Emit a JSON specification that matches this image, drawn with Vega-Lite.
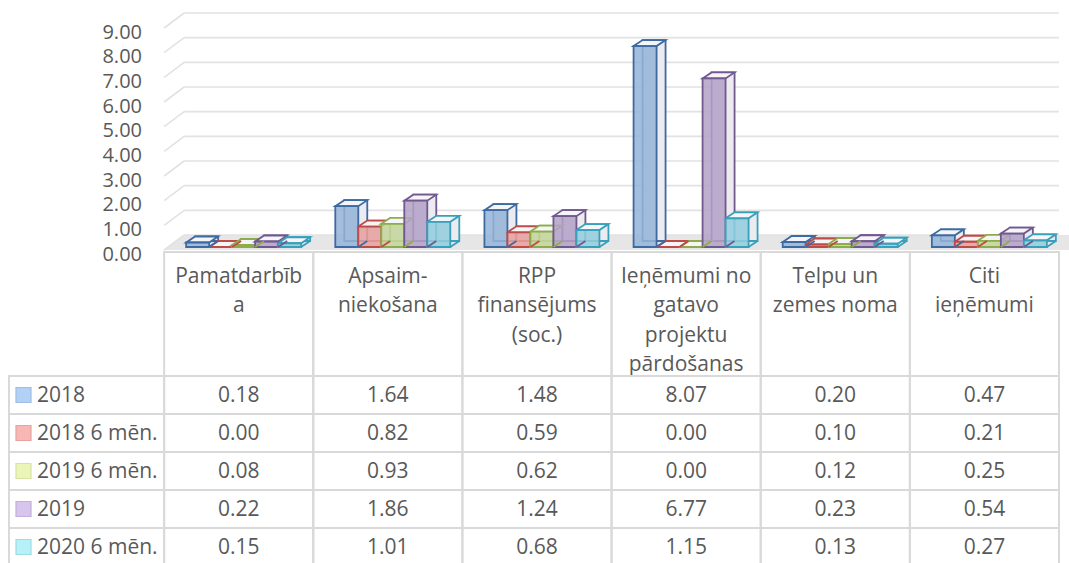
{
  "$schema": "https://vega.github.io/schema/vega-lite/v6.json",
  "width": 1044,
  "height": 563,
  "autosize": {"type": "none"},
  "padding": {"left": 15, "right": 10, "top": 0, "bottom": 0},
  "background": "white",
  "config": {
    "view": {"stroke": null},
    "font": "Open Sans",
    "text": {"font": "Open Sans", "fontSize": 21, "color": "#595959"}
  },
  "datasets": {
    "revenue": [
      {"kategorija": "Pamatdarbīb\na", "periods": "2018", "milj": 0.18},
      {"kategorija": "Pamatdarbīb\na", "periods": "2018 6 mēn.", "milj": 0.00},
      {"kategorija": "Pamatdarbīb\na", "periods": "2019 6 mēn.", "milj": 0.08},
      {"kategorija": "Pamatdarbīb\na", "periods": "2019", "milj": 0.22},
      {"kategorija": "Pamatdarbīb\na", "periods": "2020 6 mēn.", "milj": 0.15},
      {"kategorija": "Apsaim-\nniekošana", "periods": "2018", "milj": 1.64},
      {"kategorija": "Apsaim-\nniekošana", "periods": "2018 6 mēn.", "milj": 0.82},
      {"kategorija": "Apsaim-\nniekošana", "periods": "2019 6 mēn.", "milj": 0.93},
      {"kategorija": "Apsaim-\nniekošana", "periods": "2019", "milj": 1.86},
      {"kategorija": "Apsaim-\nniekošana", "periods": "2020 6 mēn.", "milj": 1.01},
      {"kategorija": "RPP\nfinansējums\n(soc.)", "periods": "2018", "milj": 1.48},
      {"kategorija": "RPP\nfinansējums\n(soc.)", "periods": "2018 6 mēn.", "milj": 0.59},
      {"kategorija": "RPP\nfinansējums\n(soc.)", "periods": "2019 6 mēn.", "milj": 0.62},
      {"kategorija": "RPP\nfinansējums\n(soc.)", "periods": "2019", "milj": 1.24},
      {"kategorija": "RPP\nfinansējums\n(soc.)", "periods": "2020 6 mēn.", "milj": 0.68},
      {"kategorija": "Ieņēmumi no\ngatavo\nprojektu\npārdošanas", "periods": "2018", "milj": 8.07},
      {"kategorija": "Ieņēmumi no\ngatavo\nprojektu\npārdošanas", "periods": "2018 6 mēn.", "milj": 0.00},
      {"kategorija": "Ieņēmumi no\ngatavo\nprojektu\npārdošanas", "periods": "2019 6 mēn.", "milj": 0.00},
      {"kategorija": "Ieņēmumi no\ngatavo\nprojektu\npārdošanas", "periods": "2019", "milj": 6.77},
      {"kategorija": "Ieņēmumi no\ngatavo\nprojektu\npārdošanas", "periods": "2020 6 mēn.", "milj": 1.15},
      {"kategorija": "Telpu un\nzemes noma", "periods": "2018", "milj": 0.20},
      {"kategorija": "Telpu un\nzemes noma", "periods": "2018 6 mēn.", "milj": 0.10},
      {"kategorija": "Telpu un\nzemes noma", "periods": "2019 6 mēn.", "milj": 0.12},
      {"kategorija": "Telpu un\nzemes noma", "periods": "2019", "milj": 0.23},
      {"kategorija": "Telpu un\nzemes noma", "periods": "2020 6 mēn.", "milj": 0.13},
      {"kategorija": "Citi\nieņēmumi", "periods": "2018", "milj": 0.47},
      {"kategorija": "Citi\nieņēmumi", "periods": "2018 6 mēn.", "milj": 0.21},
      {"kategorija": "Citi\nieņēmumi", "periods": "2019 6 mēn.", "milj": 0.25},
      {"kategorija": "Citi\nieņēmumi", "periods": "2019", "milj": 0.54},
      {"kategorija": "Citi\nieņēmumi", "periods": "2020 6 mēn.", "milj": 0.27}
    ],
    "ticks": [
      {"v": 0}, {"v": 1}, {"v": 2}, {"v": 3}, {"v": 4},
      {"v": 5}, {"v": 6}, {"v": 7}, {"v": 8}, {"v": 9}
    ],
    "periodList": [
      {"periods": "2018"},
      {"periods": "2018 6 mēn."},
      {"periods": "2019 6 mēn."},
      {"periods": "2019"},
      {"periods": "2020 6 mēn."}
    ],
    "categoryList": [
      {"kategorija": "Pamatdarbīb\na"},
      {"kategorija": "Apsaim-\nniekošana"},
      {"kategorija": "RPP\nfinansējums\n(soc.)"},
      {"kategorija": "Ieņēmumi no\ngatavo\nprojektu\npārdošanas"},
      {"kategorija": "Telpu un\nzemes noma"},
      {"kategorija": "Citi\nieņēmumi"}
    ]
  },
  "resolve": {
    "scale": {
      "y": "independent",
      "xOffset": "independent",
      "fill": "independent",
      "stroke": "independent"
    }
  },
  "layer": [
    {
      "description": "3D floor under the columns",
      "data": {"values": [{"grida": 0}]},
      "mark": {"type": "point", "shape": "M0,0 L20,-15 L1200,-15 L1200,0 Z", "size": 4, "filled": true, "fill": "#e6e6e6", "strokeWidth": 0, "opacity": 1},
      "encoding": {
        "x": {"datum": "Pamatdarbīb\na", "type": "nominal", "bandPosition": 0, "axis": null,
              "scale": {"type": "band", "domain": [" ", "Pamatdarbīb\na", "Apsaim-\nniekošana", "RPP\nfinansējums\n(soc.)", "Ieņēmumi no\ngatavo\nprojektu\npārdošanas", "Telpu un\nzemes noma", "Citi\nieņēmumi"], "paddingInner": 0, "paddingOuter": 0}},
        "y": {"field": "grida", "type": "quantitative", "axis": null,
              "scale": {"domain": [0, 9], "range": [250, 28], "zero": false, "nice": false}}
      }
    },
    {
      "description": "gridlines on the side wall",
      "data": {"name": "ticks"},
      "mark": {"type": "point", "shape": "M0,0 L20,-15", "size": 4, "filled": false, "stroke": "#e2e2e2", "strokeWidth": 1.6, "opacity": 1},
      "encoding": {
        "x": {"datum": "Pamatdarbīb\na", "type": "nominal", "bandPosition": 0, "axis": null},
        "y": {"field": "v", "type": "quantitative", "axis": null,
              "scale": {"domain": [0, 9], "range": [250, 28], "zero": false, "nice": false}}
      }
    },
    {
      "description": "gridlines on the back wall",
      "data": {"name": "ticks"},
      "mark": {"type": "rule", "stroke": "#e2e2e2", "strokeWidth": 1.6, "xOffset": 20, "yOffset": -15},
      "encoding": {
        "x": {"datum": "Pamatdarbīb\na", "type": "nominal", "bandPosition": 0, "axis": null},
        "x2": {"value": "width"},
        "y": {"field": "v", "type": "quantitative", "axis": null,
              "scale": {"domain": [0, 9], "range": [250, 28], "zero": false, "nice": false}}
      }
    },
    {
      "description": "value axis labels",
      "data": {"name": "ticks"},
      "mark": {"type": "text", "align": "right", "baseline": "middle", "dx": 127, "dy": 4.5, "fontSize": 20},
      "encoding": {
        "x": {"datum": " ", "type": "nominal", "bandPosition": 0, "axis": null},
        "y": {"field": "v", "type": "quantitative", "axis": null,
              "scale": {"domain": [0, 9], "range": [250, 28], "zero": false, "nice": false}},
        "text": {"field": "v", "type": "quantitative", "format": ".2f"}
      }
    },
    {
      "description": "back faces of the columns",
      "data": {"name": "revenue"},
      "mark": {"type": "bar", "fill": "#ebebf0", "strokeWidth": 1.8},
      "encoding": {
        "x": {"field": "kategorija", "type": "nominal", "axis": null},
        "xOffset": {"field": "periods", "type": "nominal",
                    "scale": {"type": "band", "domain": ["2018", "2018 6 mēn.", "2019 6 mēn.", "2019", "2020 6 mēn."], "range": [31, 146], "paddingInner": 0, "paddingOuter": 0}},
        "y": {"field": "milj", "type": "quantitative", "stack": null, "axis": null,
              "scale": {"domain": [0, 9], "range": [241, 16.9], "zero": false, "nice": false}},
        "stroke": {"field": "periods", "type": "nominal", "legend": null,
                   "scale": {"domain": ["2018", "2018 6 mēn.", "2019 6 mēn.", "2019", "2020 6 mēn."], "range": ["#3e6aa3", "#be4b48", "#8cad4a", "#71588f", "#37a0bb"]}}
      }
    },
    {
      "description": "top faces of the columns",
      "data": {"name": "revenue"},
      "mark": {"type": "point", "shape": "M-11.5,0 L-2.5,-6 L20.5,-6 L11.5,0 Z", "size": 4, "filled": true, "fill": "#f5f5f7", "strokeWidth": 1.8, "opacity": 1},
      "encoding": {
        "x": {"field": "kategorija", "type": "nominal", "axis": null},
        "xOffset": {"field": "periods", "type": "nominal",
                    "scale": {"type": "band", "domain": ["2018", "2018 6 mēn.", "2019 6 mēn.", "2019", "2020 6 mēn."], "range": [22, 137], "paddingInner": 0, "paddingOuter": 0}},
        "y": {"field": "milj", "type": "quantitative", "axis": null,
              "scale": {"domain": [0, 9], "range": [247, 22.9], "zero": false, "nice": false}},
        "stroke": {"field": "periods", "type": "nominal", "legend": null,
                   "scale": {"domain": ["2018", "2018 6 mēn.", "2019 6 mēn.", "2019", "2020 6 mēn."], "range": ["#3e6aa3", "#be4b48", "#8cad4a", "#71588f", "#37a0bb"]}}
      }
    },
    {
      "description": "front faces of the columns",
      "data": {"name": "revenue"},
      "mark": {"type": "bar", "fillOpacity": 0.86, "strokeWidth": 1.8},
      "encoding": {
        "x": {"field": "kategorija", "type": "nominal", "axis": null},
        "xOffset": {"field": "periods", "type": "nominal",
                    "scale": {"type": "band", "domain": ["2018", "2018 6 mēn.", "2019 6 mēn.", "2019", "2020 6 mēn."], "range": [22, 137], "paddingInner": 0, "paddingOuter": 0}},
        "y": {"field": "milj", "type": "quantitative", "stack": null, "axis": null,
              "scale": {"domain": [0, 9], "range": [247, 22.9], "zero": false, "nice": false}},
        "fill": {"field": "periods", "type": "nominal", "legend": null,
                 "scale": {"domain": ["2018", "2018 6 mēn.", "2019 6 mēn.", "2019", "2020 6 mēn."], "range": ["#95b3d7", "#e6a09e", "#c3d69b", "#b3a2c7", "#93cddd"]}},
        "stroke": {"field": "periods", "type": "nominal", "legend": null,
                   "scale": {"domain": ["2018", "2018 6 mēn.", "2019 6 mēn.", "2019", "2020 6 mēn."], "range": ["#3e6aa3", "#be4b48", "#8cad4a", "#71588f", "#37a0bb"]}}
      }
    },
    {
      "description": "lower right depth edge of each column",
      "data": {"name": "revenue"},
      "mark": {"type": "point", "shape": "M11.5,0 L20.5,-6", "size": 4, "filled": false, "strokeWidth": 1.8, "opacity": 1},
      "encoding": {
        "x": {"field": "kategorija", "type": "nominal", "axis": null},
        "xOffset": {"field": "periods", "type": "nominal",
                    "scale": {"type": "band", "domain": ["2018", "2018 6 mēn.", "2019 6 mēn.", "2019", "2020 6 mēn."], "range": [22, 137], "paddingInner": 0, "paddingOuter": 0}},
        "y": {"datum": 0, "type": "quantitative", "axis": null,
              "scale": {"domain": [0, 9], "range": [247, 22.9], "zero": false, "nice": false}},
        "stroke": {"field": "periods", "type": "nominal", "legend": null,
                   "scale": {"domain": ["2018", "2018 6 mēn.", "2019 6 mēn.", "2019", "2020 6 mēn."], "range": ["#3e6aa3", "#be4b48", "#8cad4a", "#71588f", "#37a0bb"]}}
      }
    },
    {
      "description": "header cells of the data table",
      "data": {"name": "categoryList"},
      "mark": {"type": "rect", "fill": "white", "fillOpacity": 0, "stroke": "#d9d9d9", "strokeWidth": 2},
      "encoding": {
        "x": {"field": "kategorija", "type": "nominal", "axis": null},
        "y": {"datum": " ", "type": "nominal", "axis": null,
              "scale": {"type": "band", "domain": [" "], "range": [252, 376], "paddingInner": 0, "paddingOuter": 0}}
      }
    },
    {
      "description": "category names",
      "data": {"name": "categoryList"},
      "mark": {"type": "text", "align": "center", "baseline": "top", "dy": 14, "lineBreak": "\n", "lineHeight": 29.3},
      "encoding": {
        "x": {"field": "kategorija", "type": "nominal", "axis": null},
        "y": {"datum": " ", "type": "nominal", "bandPosition": 0, "axis": null,
              "scale": {"type": "band", "domain": [" "], "range": [252, 376], "paddingInner": 0, "paddingOuter": 0}},
        "text": {"field": "kategorija", "type": "nominal"}
      }
    },
    {
      "description": "value cells of the data table",
      "data": {"name": "revenue"},
      "mark": {"type": "rect", "fill": "white", "fillOpacity": 0, "stroke": "#d9d9d9", "strokeWidth": 2},
      "encoding": {
        "x": {"field": "kategorija", "type": "nominal", "axis": null},
        "y": {"field": "periods", "type": "nominal", "axis": null,
              "scale": {"type": "band", "domain": ["2018", "2018 6 mēn.", "2019 6 mēn.", "2019", "2020 6 mēn."], "range": [376, 566], "paddingInner": 0, "paddingOuter": 0}}
      }
    },
    {
      "description": "series name cells of the data table",
      "data": {"name": "periodList"},
      "mark": {"type": "rect", "fill": "white", "fillOpacity": 0, "stroke": "#d9d9d9", "strokeWidth": 2, "xOffset": -3, "width": {"expr": "bandwidth('x') + 6"}},
      "encoding": {
        "x": {"datum": " ", "type": "nominal", "axis": null},
        "y": {"field": "periods", "type": "nominal", "axis": null,
              "scale": {"type": "band", "domain": ["2018", "2018 6 mēn.", "2019 6 mēn.", "2019", "2020 6 mēn."], "range": [376, 566], "paddingInner": 0, "paddingOuter": 0}}
      }
    },
    {
      "description": "legend keys inside the data table",
      "data": {"name": "periodList"},
      "mark": {"type": "point", "shape": "square", "size": 225, "filled": true, "strokeWidth": 1.2, "opacity": 1, "xOffset": 8.5},
      "encoding": {
        "x": {"datum": " ", "type": "nominal", "bandPosition": 0, "axis": null},
        "y": {"field": "periods", "type": "nominal", "axis": null,
              "scale": {"type": "band", "domain": ["2018", "2018 6 mēn.", "2019 6 mēn.", "2019", "2020 6 mēn."], "range": [376, 566], "paddingInner": 0, "paddingOuter": 0}},
        "fill": {"field": "periods", "type": "nominal", "legend": null,
                 "scale": {"domain": ["2018", "2018 6 mēn.", "2019 6 mēn.", "2019", "2020 6 mēn."], "range": ["#b3d1f6", "#f8b6b5", "#ebf5b8", "#d7c5ee", "#b5f1f7"]}},
        "stroke": {"field": "periods", "type": "nominal", "legend": null,
                   "scale": {"domain": ["2018", "2018 6 mēn.", "2019 6 mēn.", "2019", "2020 6 mēn."], "range": ["#9dbde4", "#e6a3a2", "#d6e3a3", "#c2b0dc", "#9fdbe3"]}}
      }
    },
    {
      "description": "series names",
      "data": {"name": "periodList"},
      "mark": {"type": "text", "align": "left", "baseline": "middle", "dx": 22, "dy": 1},
      "encoding": {
        "x": {"datum": " ", "type": "nominal", "bandPosition": 0, "axis": null},
        "y": {"field": "periods", "type": "nominal", "axis": null,
              "scale": {"type": "band", "domain": ["2018", "2018 6 mēn.", "2019 6 mēn.", "2019", "2020 6 mēn."], "range": [376, 566], "paddingInner": 0, "paddingOuter": 0}},
        "text": {"field": "periods", "type": "nominal"}
      }
    },
    {
      "description": "values in the data table",
      "data": {"name": "revenue"},
      "mark": {"type": "text", "align": "center", "baseline": "middle", "dy": 1},
      "encoding": {
        "x": {"field": "kategorija", "type": "nominal", "axis": null},
        "y": {"field": "periods", "type": "nominal", "axis": null,
              "scale": {"type": "band", "domain": ["2018", "2018 6 mēn.", "2019 6 mēn.", "2019", "2020 6 mēn."], "range": [376, 566], "paddingInner": 0, "paddingOuter": 0}},
        "text": {"field": "milj", "type": "quantitative", "format": ".2f"}
      }
    }
  ]
}
